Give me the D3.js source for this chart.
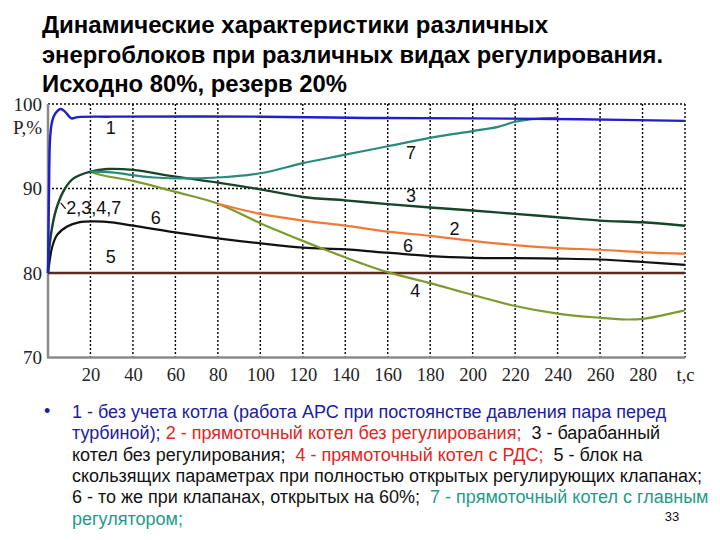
<!DOCTYPE html>
<html><head><meta charset="utf-8">
<script src="https://cdn.jsdelivr.net/npm/d3@7"></script>
<style>
html,body{margin:0;padding:0;background:#fff;}
svg{display:block;}
text{white-space:pre;}
</style></head>
<body>
<svg id="c" width="720" height="540"></svg>
<script>
// ---- data ----
const titleLines = [
  "Динамические характеристики различных",
  "энергоблоков при различных видах регулирования.",
  "Исходно 80%, резерв 20%"
];
const xTicks = [20,40,60,80,100,120,140,160,180,200,220,240,260,280,300];
const xTickLabels = ["20","40","60","80","100","120","140","160","180","200","220","240","260","280","t,c"];
const yTicks = [70,80,90,100];
const yTickLabels = ["70","80","90","100"];
const yAxisTitle = "P,%";

const t1 = [0,0.5,1,2,3.5,6,8,11,14,30,100,150,200,250,300];
const v1 = [80,90,96,98,98.9,99.4,99.1,98.3,98.45,98.5,98.5,98.35,98.3,98.2,98.0];

const t3 = [0,0.3,2,4.3,8,12,20,28,40,60,80,100,120,140,160,180,200,220,240,260,280,300];
const v3 = [80,82,85.5,87.9,90,91.2,92.0,92.3,92.2,91.4,90.7,89.9,89.0,88.6,88.15,87.75,87.4,87.0,86.6,86.2,86.0,85.6];

const t7 = [20,30,50,80,100,120,140,160,180,200,212,220,228,240];
const v7 = [92.0,91.9,91.3,91.3,91.8,93.0,94.0,95.0,96.0,96.8,97.3,97.9,98.2,98.35];

const t4 = [20,25,40,60,80,100,120,130,147,160,180,200,220,240,260,272,281,300];
const v4 = [92.0,91.6,90.9,89.6,88.2,85.9,83.8,82.8,81.2,80.1,78.8,77.4,76.1,75.2,74.7,74.5,74.6,75.6];

const t2 = [80,100,120,140,160,180,200,220,240,260,280,300];
const v2 = [88.2,87.0,86.2,85.6,84.9,84.4,83.8,83.3,82.95,82.75,82.45,82.3];

const t6 = [0,0.3,2,4.3,9,14.5,22,30,40,60,80,100,120,140,160,180,200,220,240,260,280,300];
const v6 = [80,80.6,83.1,84.5,85.5,86.0,86.1,86.0,85.6,84.8,84.1,83.5,83.0,82.8,82.4,82.0,81.8,81.75,81.7,81.6,81.3,80.95];

const t5 = [0,300];
const v5 = [80,80];

const curveLabels = ["1","7","3","2","6","4","6","5","2,3,4,7"];
const curveLabelT = [29.5,171,171,191.5,169.5,173,50.7,29.5,21.5];
const curveLabelV = [97.2,94.2,89.1,85.2,83.2,77.9,86.6,81.9,87.7];

const legendLines = [
  [["1 - без учета котла (работа АРС при постоянстве давления пара перед","b"]],
  [["турбиной); ","b"],["2 - прямоточный котел без регулирования;","r"],["  3 - барабанный","k"]],
  [["котел без регулирования;  ","k"],["4 - прямоточный котел с РДС;","r"],["  5 - блок на","k"]],
  [["скользящих параметрах при полностью открытых регулирующих клапанах;","k"]],
  [["6 - то же при клапанах, открытых на 60%;  ","k"],["7 - прямоточный котел с главным","t"]],
  [["регулятором;","t"]]
];
const pageNumber = "33";

// ---- drawing ----
const svg = d3.select("#c");
const x = d3.scaleLinear().domain([0,300]).range([48,685]);
const y = d3.scaleLinear().domain([70,100]).range([357.5,104]);

// title
const tw = [506, 621, 305];
titleLines.forEach((s,i)=>{
  svg.append("text").attr("x",42).attr("y",33+i*29.5)
    .attr("font-family","'Liberation Sans',Arial,sans-serif").attr("font-weight","bold")
    .attr("font-size",24).attr("fill","#000")
    .attr("textLength",tw[i]).attr("lengthAdjust","spacingAndGlyphs")
    .text(s);
});

// grid
const g = svg.append("g");
g.selectAll("line.vg").data(xTicks).join("line")
  .attr("x1",d=>x(d)).attr("x2",d=>x(d)).attr("y1",y(100)).attr("y2",y(70))
  .attr("stroke","#000").attr("stroke-width",1.4).attr("stroke-dasharray","2,2");
g.selectAll("line.hg").data([90,100]).join("line")
  .attr("x1",x(0)).attr("x2",x(300)).attr("y1",d=>y(d)).attr("y2",d=>y(d))
  .attr("stroke","#000").attr("stroke-width",1.4).attr("stroke-dasharray","2,2");

// axes
const xAxis = d3.axisBottom(x).tickValues(xTicks).tickSize(0).tickPadding(10)
  .tickFormat((d,i)=>xTickLabels[i]);
const xa = svg.append("g").attr("transform",`translate(0,${y(70)})`).call(xAxis);
xa.select(".domain").remove();
xa.selectAll("text").attr("font-family","'Liberation Serif','Times New Roman',serif").attr("font-size",18.5).attr("fill","#222");

const yAxis = d3.axisLeft(y).tickValues(yTicks).tickSize(0).tickPadding(6)
  .tickFormat((d,i)=>yTickLabels[i]);
const ya = svg.append("g").attr("transform",`translate(${x(0)},0)`).call(yAxis);
ya.select(".domain").remove();
ya.selectAll("text").attr("font-family","'Liberation Serif','Times New Roman',serif").attr("font-size",19).attr("fill","#222");
svg.append("text").attr("x",42).attr("y",y(97.2)).attr("dy","0.35em").attr("text-anchor","end")
  .attr("font-family","'Liberation Serif','Times New Roman',serif").attr("font-size",19).attr("fill","#222")
  .text(yAxisTitle);

svg.append("line").attr("x1",x(0)).attr("x2",x(0)).attr("y1",y(100)).attr("y2",y(70))
  .attr("stroke","#8a8a8a").attr("stroke-width",2.5);
svg.append("line").attr("x1",x(0)-1).attr("x2",x(300)).attr("y1",y(70)).attr("y2",y(70))
  .attr("stroke","#8a8a8a").attr("stroke-width",2.5);

// series
const line = d3.line().x(d=>x(d[0])).y(d=>y(d[1])).curve(d3.curveCatmullRom.alpha(0.5));
const series = [
  [t5,v5,"#5a2a1e",2.6],
  [t6,v6,"#111111",2.2],
  [t4,v4,"#7d9a2e",2.2],
  [t2,v2,"#f07a35",2.2],
  [t3,v3,"#17452a",2.4],
  [t7,v7,"#2a8a7c",2.2],
  [t1,v1,"#1f1fcc",2.4]
];
series.forEach(([ts,vs,col,w])=>{
  svg.append("path").datum(ts.map((t,i)=>[t,vs[i]]))
    .attr("d",line).attr("fill","none").attr("stroke",col).attr("stroke-width",w)
    .attr("stroke-linejoin","round");
});

// curve labels
curveLabels.forEach((s,i)=>{
  svg.append("text").attr("x",x(curveLabelT[i])).attr("y",y(curveLabelV[i])).attr("dy","0.35em")
    .attr("text-anchor","middle")
    .attr("font-family","'Liberation Sans',Arial,sans-serif").attr("font-size",18).attr("fill","#111")
    .text(s);
});
svg.append("line").attr("x1",x(6)).attr("y1",y(88.3)).attr("x2",x(8.3)).attr("y2",y(87.6))
  .attr("stroke","#111").attr("stroke-width",1.2);

// legend text
const colMap = {b:"#1c1c9c", r:"#e42420", k:"#111", t:"#1f9a8a"};
svg.append("text").attr("x",44).attr("y",417).attr("font-family","'Liberation Sans',Arial,sans-serif")
  .attr("font-size",18).attr("fill","#1c1c9c").text("•");
legendLines.forEach((segs,i)=>{
  const tx = svg.append("text").attr("x",72).attr("y",411.5+i*21.35).attr("dy","0.35em")
    .attr("font-family","'Liberation Sans',Arial,sans-serif").attr("font-size",18);
  segs.forEach(([s,c])=>tx.append("tspan").attr("fill",colMap[c]).text(s));
});
svg.append("text").attr("x",672).attr("y",516).attr("dy","0.35em").attr("text-anchor","middle")
  .attr("font-family","'Liberation Sans',Arial,sans-serif").attr("font-size",13).attr("fill","#111")
  .text(pageNumber);
</script>
</body></html>
